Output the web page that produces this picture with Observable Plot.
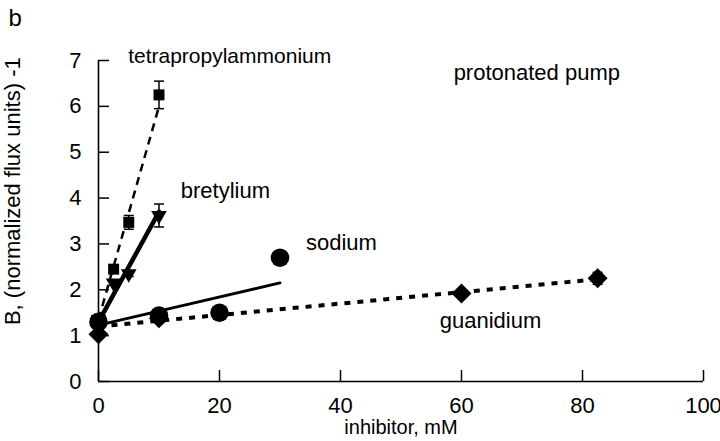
<!DOCTYPE html>
<html>
<head>
<meta charset="utf-8">
<script src="https://cdn.jsdelivr.net/npm/d3@7"></script>
<script src="https://cdn.jsdelivr.net/npm/@observablehq/plot@0.6"></script>
<style>
  html, body { margin: 0; padding: 0; background: #fff; }
  svg { display: block; }
</style>
</head>
<body>
<div id="chart"></div>
<script>
// ---- data ----
const xTicks = [0, 20, 40, 60, 80, 100];
const yTicks = [0, 1, 2, 3, 4, 5, 6, 7];

const tpaX = [0, 2.5, 5, 10];
const tpaY = [1.3, 2.45, 3.47, 6.25];
const tpaErr = [0, 0.06, 0.15, 0.3];

const bretX = [0, 2.5, 5, 10];
const bretY = [1.35, 2.15, 2.35, 3.62];
const bretErr = [0, 0.05, 0.06, 0.25];

const sodX = [0, 10, 20, 30];
const sodY = [1.3, 1.44, 1.5, 2.7];

const guanX = [0, 10, 60, 82.5];
const guanY = [1.03, 1.38, 1.92, 2.25];
const guanErr = [0, 0, 0.05, 0.13];

// fitted lines (end points)
const tpaFitX = [0, 10],  tpaFitY = [1.35, 6.0];
const bretFitX = [0, 10], bretFitY = [1.3, 3.7];
const sodFitX = [0, 30],  sodFitY = [1.23, 2.15];
const guanFitX = [0, 82.5], guanFitY = [1.2, 2.23];

// annotation labels (left edge, middle of line)
const labelText = ["tetrapropylammonium", "protonated pump", "bretylium", "sodium", "guanidium"];
const labelX = [4.9, 58.7, 13.6, 34.3, 56.4];
const labelY = [7.1, 6.72, 4.15, 3.03, 1.32];
const labelSize = [21, 22, 22, 22, 22];

// ---- build tables ----
const pts = (xs, ys, es) => xs.map((x, i) => ({x, y: ys[i], e: es ? es[i] : 0}));
const tpa = pts(tpaX, tpaY, tpaErr);
const bret = pts(bretX, bretY, bretErr);
const sod = pts(sodX, sodY);
const guan = pts(guanX, guanY, guanErr);
const fit = (xs, ys) => xs.map((x, i) => ({x, y: ys[i]}));
const errs = [...tpa, ...bret, ...guan].filter(d => d.e > 0);
const labels = labelText.map((text, i) => ({text, x: labelX[i], y: labelY[i], size: labelSize[i]}));

const capSymbol = {
  draw(ctx, size) {
    const r = Math.sqrt(size / Math.PI);
    ctx.moveTo(-r, 0); ctx.lineTo(r, 0);
  }
};

const font = "Liberation Sans, Arial, Helvetica, sans-serif";

const chart = Plot.plot({
  width: 720,
  height: 441,
  marginLeft: 98,
  marginRight: 17,
  marginTop: 60,
  marginBottom: 60,
  style: {fontFamily: font, background: "#fff", color: "#000", overflow: "visible"},
  x: {domain: [0, 100]},
  y: {domain: [0, 7]},
  marks: [
    Plot.axisX({ticks: xTicks, tickFormat: d => String(d), tickSize: -11, tickPadding: 27, fontSize: 22, strokeWidth: 1.5, label: null}),
    Plot.axisY({ticks: yTicks, tickFormat: d => String(d), tickSize: -11, tickPadding: 28, fontSize: 22, strokeWidth: 1.5, label: null}),
    Plot.ruleX([0], {y1: 0, y2: 7, stroke: "#000", strokeWidth: 1.6}),
    Plot.ruleY([0], {x1: 0, x2: 100, stroke: "#000", strokeWidth: 1.6}),

    // fitted lines
    Plot.line(fit(guanFitX, guanFitY), {x: "x", y: "y", stroke: "#000", strokeWidth: 4, strokeDasharray: "6,7", strokeLinecap: "butt"}),
    Plot.line(fit(sodFitX, sodFitY), {x: "x", y: "y", stroke: "#000", strokeWidth: 3}),
    Plot.line(fit(bretFitX, bretFitY), {x: "x", y: "y", stroke: "#000", strokeWidth: 4.5}),
    Plot.line(fit(tpaFitX, tpaFitY), {x: "x", y: "y", stroke: "#000", strokeWidth: 2.5, strokeDasharray: "8,6", strokeLinecap: "butt"}),

    // error bars
    Plot.link(errs, {x1: "x", x2: "x", y1: d => d.y - d.e, y2: d => d.y + d.e, stroke: "#000", strokeWidth: 1.5}),
    Plot.dot(errs, {x: "x", y: d => d.y - d.e, symbol: capSymbol, r: 5, stroke: "#000", strokeWidth: 1.5, fill: "none"}),
    Plot.dot(errs, {x: "x", y: d => d.y + d.e, symbol: capSymbol, r: 5, stroke: "#000", strokeWidth: 1.5, fill: "none"}),

    // markers
    Plot.dot(guan, {x: "x", y: "y", symbol: "diamond2", r: 9, fill: "#000"}),
    Plot.dot(sod, {x: "x", y: "y", symbol: "circle", r: 9.3, fill: "#000"}),
    Plot.dot(bret, {x: "x", y: "y", symbol: "triangle", r: 5.8, rotate: 180, fill: "#000"}),
    Plot.dot(tpa, {x: "x", y: "y", symbol: "square", r: 6.2, fill: "#000"}),

    // annotations
    Plot.text(labels, {x: "x", y: "y", text: "text", textAnchor: "start", lineAnchor: "middle", fontSize: "size", fill: "#000"}),

    // axis titles and panel letter
    Plot.text(["inhibitor, mM"], {x: 50, frameAnchor: "bottom", textAnchor: "middle", lineAnchor: "middle", dy: 46, fontSize: 20, fill: "#000"}),
    Plot.text(["B, (normalized flux units) -1"], {y: 4.15, frameAnchor: "left", textAnchor: "middle", lineAnchor: "middle", dx: -86, rotate: -90, fontSize: 22, fill: "#000"}),
    Plot.text(["b"], {frameAnchor: "top-left", textAnchor: "start", lineAnchor: "middle", dx: -90, dy: -42, fontSize: 24, fill: "#000"})
  ]
});

document.getElementById("chart").appendChild(chart);
</script>
</body>
</html>
